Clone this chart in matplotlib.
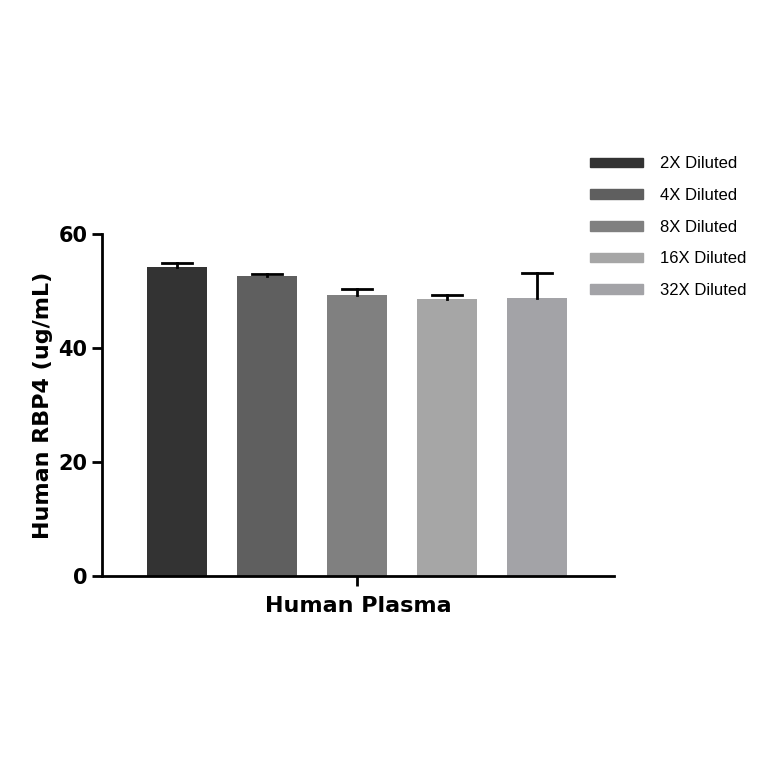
import matplotlib
matplotlib.use("Agg")
import matplotlib.pyplot as plt
from matplotlib.patches import Patch

labels = ["2X Diluted", "4X Diluted", "8X Diluted", "16X Diluted", "32X Diluted"]
values = [54.1, 52.6, 49.2, 48.5, 48.8]
errors = [0.8, 0.4, 1.1, 0.7, 4.3]
colors = ["#333333", "#5f5f5f", "#808080", "#a6a6a6", "#a3a3a7"]

fig = plt.figure(figsize=(7.64, 7.64), dpi=100)
ax = fig.add_axes([0.1335, 0.246, 0.670, 0.448])
xs = list(range(len(values)))
cap = 0.17
for x, v, e, c in zip(xs, values, errors, colors):
    ax.bar(x, v, width=0.667, color=c, zorder=2)
    ax.plot([x, x], [v, v + e], color="black", lw=2, zorder=3)
    ax.plot([x - cap, x + cap], [v + e, v + e], color="black", lw=2, zorder=3)
ax.set_xlim(-0.833, 4.856)
ax.set_ylim(0, 60)
ax.set_yticks([0, 20, 40, 60])
ax.set_xticks([2])
ax.set_xticklabels([])
ax.spines["top"].set_visible(False)
ax.spines["right"].set_visible(False)
for s in ("left", "bottom"):
    ax.spines[s].set_linewidth(2)
ax.tick_params(width=2, length=7, labelsize=15)
for t in ax.get_yticklabels():
    t.set_fontweight("bold")
ax.set_xlabel("Human Plasma", fontsize=16, fontweight="bold", labelpad=4)
ax.set_ylabel("Human RBP4 (ug/mL)", fontsize=16, fontweight="bold")
handles = [Patch(color=c, label=l) for c, l in zip(colors, labels)]
fig.legend(handles=handles, loc="upper left", bbox_to_anchor=(0.752, 0.815), frameon=False,
           prop={"family": "Liberation Sans", "size": 12}, handlelength=3.2, handleheight=0.5,
           labelspacing=1.0, handletextpad=1.0)
fig.savefig("out.png", dpi=100)
